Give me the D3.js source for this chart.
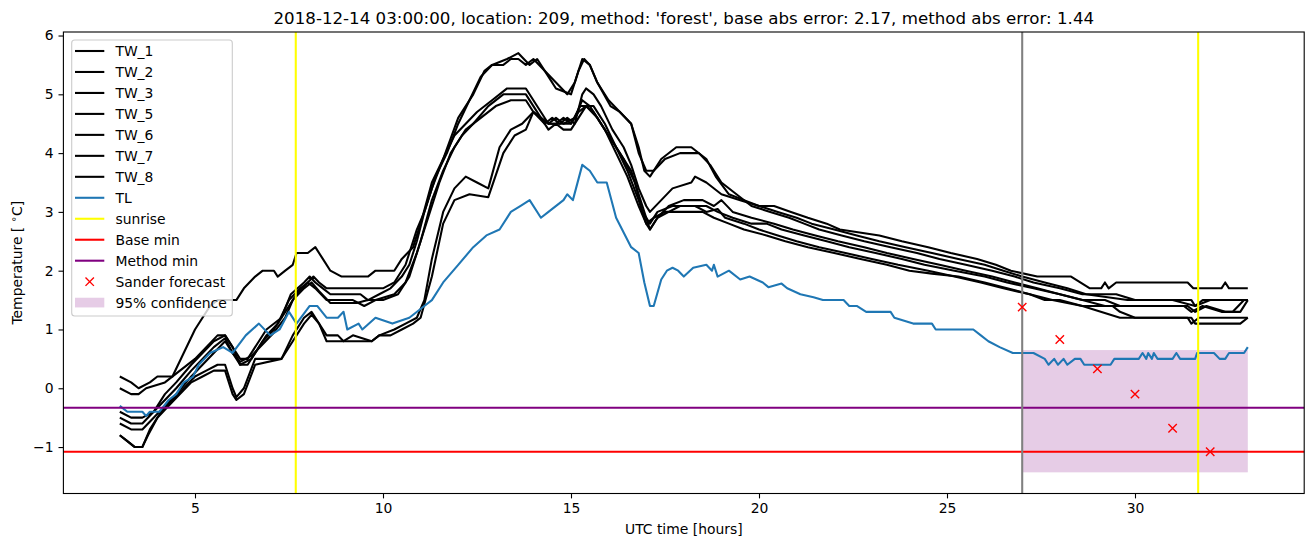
<!DOCTYPE html>
<html><head><meta charset="utf-8">
<script src="https://cdn.jsdelivr.net/npm/d3@7"></script>
<style>body{margin:0;background:#fff} svg{display:block} text{font-family:"DejaVu Sans",sans-serif;fill:#000}</style>
</head><body><svg id="c" width="1313" height="547"></svg>
<script>
// ---------- data (hour, temperature) ----------
const tw1 = [[3.0,0.2],[3.3,0.1],[3.5,0.0],[3.8,0.1],[4.0,0.2],[4.4,0.2],[4.7,0.6],[5.0,1.0],[5.4,1.4],[5.6,1.5],[6.1,1.5],[6.3,1.7],[6.6,1.9],[6.8,2.0],[7.1,2.0],[7.2,1.9],[7.4,2.0],[7.6,2.1],[7.7,2.3],[8.0,2.3],[8.2,2.4],[8.4,2.2],[8.6,2.0],[8.9,1.9],[9.6,1.9],[9.8,2.0],[10.3,2.0],[10.5,2.2],[10.8,2.4],[11.0,2.8],[11.3,3.5],[11.6,3.9],[12.0,4.6],[12.4,5.0],[12.7,5.4],[12.9,5.5],[13.3,5.6],[13.6,5.7],[13.9,5.5],[14.1,5.6],[14.4,5.3],[14.6,5.1],[15.0,5.0],[15.2,5.4],[15.35,5.6],[15.5,5.5],[15.7,5.2],[16.05,4.8],[16.3,4.7],[16.6,4.5],[16.8,4.1],[16.95,3.7],[17.1,3.6],[17.4,3.9],[17.8,4.1],[18.2,4.1],[18.6,3.9],[18.85,3.6],[19.2,3.3],[19.6,3.2],[20.0,3.1],[20.4,3.1],[20.85,3.0],[21.3,2.9],[21.8,2.8],[22.15,2.7],[23.2,2.6],[23.8,2.5],[24.5,2.4],[25.1,2.3],[25.8,2.2],[26.3,2.1],[26.7,2.0],[27.4,1.9],[28.3,1.9],[28.8,1.7],[29.1,1.7],[29.2,1.8],[29.3,1.7],[29.5,1.8],[31.4,1.8],[31.55,1.7],[32.3,1.7],[32.4,1.8],[32.5,1.7],[33.0,1.7]];
const tw2 = [[3.0,0.0],[3.3,-0.1],[3.5,-0.1],[3.7,0.0],[4.2,0.1],[4.6,0.3],[5.0,0.5],[5.3,0.7],[5.6,0.9],[5.8,0.9],[6.0,0.7],[6.2,0.5],[6.4,0.5],[6.7,0.8],[6.9,1.0],[7.3,1.2],[7.55,1.6],[7.9,1.8],[8.05,1.9],[8.2,1.8],[8.4,1.7],[8.6,1.6],[9.4,1.6],[9.6,1.5],[9.9,1.6],[10.2,1.7],[10.5,1.9],[10.7,2.1],[10.9,2.5],[11.1,3.0],[11.4,3.6],[11.7,4.0],[12.0,4.5],[12.3,4.9],[12.6,5.3],[12.9,5.5],[13.2,5.5],[13.4,5.6],[13.6,5.6],[13.8,5.5],[14.0,5.6],[14.3,5.4],[14.6,5.2],[14.9,5.0],[15.1,5.2],[15.3,5.6],[15.5,5.5],[15.7,5.2],[16.0,4.9],[16.3,4.7],[16.6,4.5],[16.8,4.0],[17.0,3.7],[17.2,3.7],[17.5,3.9],[17.9,4.0],[18.4,4.0],[18.7,3.8],[19.0,3.5],[19.4,3.3],[19.8,3.1],[20.3,3.0],[20.8,2.9],[21.2,2.8],[21.6,2.7],[22.2,2.6],[22.8,2.5],[23.5,2.4],[24.2,2.3],[24.8,2.2],[25.5,2.1],[26.2,2.0],[26.8,1.9],[27.3,1.8],[28.0,1.7],[28.6,1.6],[29.5,1.6],[30.0,1.5],[31.0,1.5],[31.6,1.4],[31.8,1.5],[32.5,1.5],[33.0,1.5]];
const tw3 = [[3.0,-0.4],[3.3,-0.5],[3.6,-0.5],[3.9,-0.4],[4.2,-0.1],[4.5,0.1],[4.9,0.4],[5.2,0.6],[5.5,0.8],[5.8,0.9],[6.0,0.7],[6.2,0.4],[6.4,0.4],[6.7,0.7],[6.9,0.9],[7.2,1.1],[7.5,1.5],[7.8,1.7],[8.0,1.8],[8.15,1.9],[8.3,1.8],[8.5,1.7],[9.0,1.7],[9.5,1.7],[10.0,1.7],[10.3,1.8],[10.6,2.1],[10.9,2.7],[11.1,3.0],[11.3,3.4],[11.6,3.9],[11.9,4.3],[12.2,4.5],[12.5,4.7],[12.9,4.9],[13.3,5.1],[13.8,5.1],[14.0,4.9],[14.2,4.7],[14.4,4.5],[14.7,4.5],[14.9,4.6],[15.1,4.5],[15.3,5.0],[15.4,5.1],[15.6,5.0],[15.8,4.8],[16.1,4.4],[16.4,4.1],[16.6,3.8],[16.8,3.4],[17.0,3.1],[17.1,3.0],[17.4,3.2],[17.7,3.4],[18.2,3.5],[18.3,3.6],[18.6,3.5],[19.0,3.3],[19.5,3.2],[20.0,3.1],[20.5,3.0],[21.0,2.9],[21.4,2.8],[22.0,2.7],[22.6,2.6],[23.2,2.5],[23.9,2.4],[24.6,2.3],[25.3,2.2],[26.0,2.1],[26.5,2.0],[27.0,1.9],[27.6,1.8],[28.2,1.7],[28.7,1.6],[29.8,1.5],[31.5,1.5],[31.6,1.4],[32.0,1.5],[33.0,1.5]];
const tw5 = [[3.0,-0.5],[3.3,-0.6],[3.6,-0.6],[3.9,-0.4],[4.2,-0.2],[4.5,0.0],[4.9,0.3],[5.2,0.5],[5.5,0.7],[5.8,0.85],[6.0,0.6],[6.2,0.4],[6.5,0.5],[6.8,0.8],[7.1,1.0],[7.4,1.3],[7.7,1.6],[8.0,1.8],[8.2,1.7],[8.5,1.5],[9.2,1.5],[9.5,1.4],[9.8,1.5],[10.3,1.6],[10.6,1.8],[10.9,2.3],[11.2,2.9],[11.5,3.5],[11.8,4.0],[12.1,4.3],[12.4,4.5],[12.8,4.8],[13.2,5.0],[13.8,5.0],[14.0,4.8],[14.2,4.6],[14.4,4.5],[14.6,4.6],[14.8,4.5],[15.1,4.6],[15.3,4.9],[15.5,4.8],[15.8,4.5],[16.1,4.2],[16.4,3.9],[16.7,3.5],[16.9,3.0],[17.1,2.8],[17.3,3.0],[17.7,3.1],[18.6,3.1],[18.9,3.0],[19.3,2.9],[19.8,2.8],[20.2,2.8],[20.6,2.7],[21.2,2.6],[21.8,2.5],[22.4,2.4],[23.1,2.3],[23.8,2.2],[24.4,2.1],[25.2,2.0],[26.0,1.9],[26.6,1.8],[27.3,1.7],[28.0,1.6],[28.6,1.5],[29.2,1.5],[29.6,1.4],[31.3,1.4],[31.5,1.3],[31.8,1.4],[32.3,1.3],[32.6,1.3],[32.9,1.5],[33.0,1.5]];
const tw6 = [[3.0,-0.6],[3.3,-0.7],[3.6,-0.7],[3.9,-0.5],[4.2,-0.3],[4.5,-0.1],[4.9,0.2],[5.2,0.4],[5.5,0.6],[5.8,0.8],[6.0,0.6],[6.2,0.45],[6.5,0.55],[6.8,0.75],[7.1,0.95],[7.4,1.2],[7.6,1.5],[7.9,1.7],[8.1,1.8],[8.3,1.65],[8.6,1.45],[9.3,1.45],[9.6,1.5],[10.0,1.5],[10.4,1.6],[10.7,1.9],[11.0,2.5],[11.3,3.2],[11.6,3.7],[11.9,4.1],[12.2,4.4],[12.6,4.6],[13.0,4.8],[13.4,4.9],[13.8,4.9],[14.0,4.7],[14.3,4.5],[14.5,4.6],[14.7,4.5],[15.0,4.5],[15.25,4.8],[15.4,4.8],[15.7,4.6],[16.0,4.3],[16.3,4.0],[16.6,3.7],[16.8,3.3],[17.0,2.9],[17.1,2.7],[17.3,2.9],[17.6,3.0],[17.9,3.1],[18.3,3.1],[18.6,3.0],[18.9,3.05],[19.1,2.9],[19.6,2.8],[20.0,2.7],[20.5,2.6],[21.0,2.5],[21.6,2.4],[22.3,2.3],[23.0,2.2],[23.7,2.1],[24.5,2.0],[25.2,1.9],[25.9,1.8],[26.5,1.7],[27.2,1.6],[27.8,1.5],[28.6,1.4],[29.6,1.2],[31.4,1.2],[31.5,1.1],[31.7,1.2],[32.8,1.2],[33.0,1.2]];
const tw7 = [[3.0,-0.8],[3.2,-0.9],[3.4,-1.0],[3.6,-1.0],[3.8,-0.7],[4.1,-0.4],[4.4,-0.2],[4.7,0.0],[5.0,0.2],[5.3,0.3],[5.6,0.4],[5.8,0.4],[6.0,0.0],[6.1,-0.15],[6.3,0.0],[6.6,0.5],[7.3,0.5],[7.6,0.9],[7.9,1.2],[8.1,1.3],[8.3,1.1],[8.5,0.9],[8.8,0.9],[8.95,0.8],[9.2,0.9],[9.7,0.8],[9.9,0.9],[10.3,1.0],[10.6,1.1],[10.9,1.2],[11.1,1.5],[11.3,2.2],[11.6,3.0],[11.9,3.4],[12.2,3.6],[12.5,3.5],[12.8,3.4],[13.1,4.1],[13.4,4.4],[13.7,4.5],[14.0,4.7],[14.2,4.6],[14.4,4.5],[14.6,4.5],[14.8,4.6],[15.0,4.5],[15.2,4.7],[15.4,4.8],[15.6,4.8],[15.9,4.5],[16.2,4.1],[16.5,3.7],[16.8,3.2],[17.0,2.8],[17.2,2.9],[17.5,3.0],[17.8,3.0],[18.5,3.0],[18.8,2.9],[19.2,2.8],[19.6,2.7],[20.2,2.6],[20.7,2.5],[21.3,2.4],[22.0,2.3],[22.7,2.2],[23.4,2.1],[24.0,2.0],[24.6,1.95],[25.3,1.9],[26.0,1.8],[26.6,1.7],[27.2,1.6],[27.6,1.5],[28.0,1.5],[28.6,1.4],[29.4,1.4],[29.6,1.3],[30.0,1.2],[31.5,1.2],[31.6,1.1],[32.8,1.1],[33.0,1.2]];
const tw8 = [[3.0,-0.8],[3.2,-0.9],[3.4,-1.0],[3.6,-1.0],[3.75,-0.8],[4.0,-0.5],[4.3,-0.3],[4.6,-0.1],[4.9,0.1],[5.2,0.2],[5.5,0.3],[5.8,0.3],[6.0,-0.1],[6.1,-0.2],[6.3,-0.1],[6.6,0.4],[7.3,0.5],[7.6,0.8],[7.9,1.1],[8.1,1.25],[8.3,1.1],[8.5,0.8],[9.7,0.8],[9.9,0.9],[10.2,0.9],[10.5,1.0],[10.8,1.1],[11.0,1.2],[11.3,1.9],[11.6,2.8],[11.9,3.2],[12.3,3.3],[12.8,3.25],[13.2,4.0],[13.5,4.3],[13.8,4.4],[14.0,4.7],[14.2,4.6],[14.4,4.4],[14.6,4.5],[14.8,4.4],[15.0,4.4],[15.2,4.6],[15.4,4.8],[15.6,4.7],[15.9,4.4],[16.2,4.0],[16.5,3.6],[16.8,3.1],[17.0,2.8],[17.1,2.7],[17.3,2.9],[17.6,3.1],[18.0,3.2],[18.5,3.2],[18.8,3.1],[19.0,3.2],[19.3,3.0],[19.8,2.9],[20.4,2.8],[20.9,2.7],[21.5,2.6],[22.1,2.5],[22.8,2.4],[23.4,2.3],[24.1,2.2],[24.8,2.1],[25.5,2.0],[26.2,1.9],[26.8,1.8],[27.4,1.7],[28.0,1.6],[28.6,1.5],[29.2,1.4],[30.0,1.4],[31.4,1.4],[31.6,1.3],[31.9,1.4],[32.4,1.3],[32.8,1.3],[33.0,1.5]];
const tl = [[3.0,-0.3],[3.2,-0.4],[3.6,-0.4],[3.7,-0.47],[3.8,-0.4],[4.05,-0.4],[4.3,-0.2],[4.5,-0.1],[4.7,0.1],[4.95,0.2],[5.1,0.4],[5.4,0.6],[5.75,0.7],[6.0,0.6],[6.35,0.9],[6.7,1.1],[7.0,0.9],[7.25,1.0],[7.5,1.3],[7.7,1.1],[8.05,1.4],[8.25,1.4],[8.5,1.2],[8.8,1.2],[8.95,1.3],[9.05,1.0],[9.35,1.1],[9.45,1.0],[9.8,1.2],[10.25,1.1],[10.7,1.2],[11.1,1.4],[11.3,1.5],[11.6,1.8],[12.0,2.1],[12.4,2.4],[12.75,2.6],[13.1,2.7],[13.4,3.0],[13.65,3.1],[13.9,3.2],[14.2,2.9],[14.4,3.0],[14.8,3.2],[14.9,3.3],[15.05,3.2],[15.3,3.8],[15.5,3.7],[15.7,3.5],[15.95,3.5],[16.2,2.9],[16.6,2.4],[16.8,2.3],[16.95,1.8],[17.1,1.4],[17.2,1.4],[17.4,1.85],[17.55,2.0],[17.7,2.05],[17.85,2.0],[18.0,1.9],[18.25,2.05],[18.6,2.1],[18.75,2.0],[18.8,2.1],[18.9,1.9],[19.2,2.0],[19.5,1.85],[19.75,1.9],[20.1,1.8],[20.25,1.72],[20.6,1.78],[20.75,1.7],[21.1,1.6],[21.45,1.55],[21.7,1.5],[22.25,1.5],[22.4,1.4],[22.6,1.4],[22.85,1.3],[23.5,1.3],[23.6,1.2],[24.1,1.1],[24.6,1.1],[24.7,1.0],[25.0,1.0],[25.7,1.0],[25.9,0.9],[26.1,0.8],[26.4,0.7],[26.75,0.6],[27.3,0.6],[27.6,0.5],[27.7,0.4],[27.85,0.5],[27.95,0.4],[28.1,0.5],[28.2,0.4],[28.4,0.5],[28.55,0.5],[28.65,0.4],[29.35,0.4],[29.45,0.5],[30.1,0.5],[30.2,0.6],[30.3,0.5],[30.35,0.6],[30.45,0.5],[30.5,0.6],[30.6,0.5],[31.0,0.5],[31.1,0.6],[31.2,0.5],[31.6,0.5],[31.65,0.6],[32.1,0.6],[32.25,0.5],[32.4,0.5],[32.5,0.6],[32.9,0.6],[33.0,0.7]];
const twNames = ["TW_1","TW_2","TW_3","TW_5","TW_6","TW_7","TW_8"];
const sunriseHours = [7.68, 31.68];
const issueHour = 27;
const baseMin = -1.08;
const methodMin = -0.33;
const forecastHours = [27, 28, 29, 30, 31, 32];
const forecastTemps = [1.38, 0.83, 0.33, -0.1, -0.68, -1.08];
const confHours = [27, 33];
const confLow = -1.43, confHigh = 0.65;
const xTicks = [5, 10, 15, 20, 25, 30];
const yTicks = [-1, 0, 1, 2, 3, 4, 5, 6];
const title = "2018-12-14 03:00:00, location: 209, method: 'forest', base abs error: 2.17, method abs error: 1.44";

// ---------- layout ----------
const L = 63.4, R = 1304.2, T = 32, B = 493.5;
const LW = 2.08;
const svg = d3.select("#c");
const x = d3.scaleLinear().domain([1.5, 34.5]).range([L, R]);
const y = d3.scaleLinear().domain([-1.79, 6.06]).range([B, T]);
const line = d3.line().x(d => x(d[0])).y(d => y(d[1]));

// confidence patch (zorder below lines)
svg.append("rect").attr("x", x(confHours[0])).attr("width", x(confHours[1]) - x(confHours[0]))
  .attr("y", y(confHigh)).attr("height", y(confLow) - y(confHigh))
  .attr("fill", "purple").attr("fill-opacity", 0.2);

const twSeries = [tw1, tw2, tw3, tw5, tw6, tw7, tw8];
twSeries.forEach(s => svg.append("path").attr("d", line(s)).attr("fill", "none")
  .attr("stroke", "#000").attr("stroke-width", LW).attr("stroke-linejoin", "round"));
svg.append("path").attr("d", line(tl)).attr("fill", "none")
  .attr("stroke", "#1f77b4").attr("stroke-width", LW).attr("stroke-linejoin", "round");

sunriseHours.forEach(h => svg.append("line").attr("x1", x(h)).attr("x2", x(h)).attr("y1", T).attr("y2", B)
  .attr("stroke", "#ffff00").attr("stroke-width", LW));
svg.append("line").attr("x1", L).attr("x2", R).attr("y1", y(baseMin)).attr("y2", y(baseMin))
  .attr("stroke", "#ff0000").attr("stroke-width", LW);
svg.append("line").attr("x1", L).attr("x2", R).attr("y1", y(methodMin)).attr("y2", y(methodMin))
  .attr("stroke", "#800080").attr("stroke-width", LW);
svg.append("line").attr("x1", x(issueHour)).attr("x2", x(issueHour)).attr("y1", T).attr("y2", B)
  .attr("stroke", "#808080").attr("stroke-width", LW);

function cross(g, cx, cy, r) {
  g.append("path").attr("d", `M${cx-r},${cy-r}L${cx+r},${cy+r}M${cx-r},${cy+r}L${cx+r},${cy-r}`)
    .attr("stroke", "#ff0000").attr("stroke-width", 1.4).attr("fill", "none");
}
forecastHours.forEach((h, i) => cross(svg, x(h), y(forecastTemps[i]), 4.2));

// axes
const fs = 13.9;
const xAxis = svg.append("g").attr("transform", `translate(0,${B})`)
  .call(d3.axisBottom(x).tickValues(xTicks).tickSize(4.9).tickPadding(4.9).tickSizeOuter(0).tickFormat(d3.format("d")));
const yAxis = svg.append("g").attr("transform", `translate(${L},0)`)
  .call(d3.axisLeft(y).tickValues(yTicks).tickSize(4.9).tickPadding(4.9).tickSizeOuter(0)
    .tickFormat(d => d < 0 ? "\u2212" + Math.abs(d) : String(d)));
[xAxis, yAxis].forEach(a => {
  a.select(".domain").remove();
  a.selectAll("text").attr("font-size", fs).attr("font-family", "DejaVu Sans").attr("fill", "#000");
  a.selectAll("line").attr("stroke", "#000").attr("stroke-width", 1.1);
});
svg.append("rect").attr("x", L).attr("y", T).attr("width", R - L).attr("height", B - T)
  .attr("fill", "none").attr("stroke", "#000").attr("stroke-width", 1.1);

svg.append("text").attr("x", (L + R) / 2).attr("y", 534).attr("text-anchor", "middle")
  .attr("font-size", fs).text("UTC time [hours]");
const yl = svg.append("text").attr("transform", `translate(22,${(T + B) / 2}) rotate(-90)`)
  .attr("text-anchor", "middle").attr("font-size", fs);
yl.append("tspan").text("Temperature [ ");
yl.append("tspan").attr("font-size", 10).attr("dy", -5).text("\u2218");
yl.append("tspan").attr("dy", 5).text("C]");
svg.append("text").attr("x", (L + R) / 2).attr("y", 23.5).attr("text-anchor", "middle")
  .attr("font-size", 16.67).text(title);

// legend
const lg = svg.append("g");
lg.append("rect").attr("x", 71.7).attr("y", 40).attr("width", 160.6).attr("height", 276).attr("rx", 3)
  .attr("fill", "#fff").attr("fill-opacity", 0.8).attr("stroke", "#cccccc").attr("stroke-width", 1.1);
const legendItems = twNames.map(n => ({label: n, type: "line", color: "#000"})).concat([
  {label: "TL", type: "line", color: "#1f77b4"},
  {label: "sunrise", type: "line", color: "#ffff00"},
  {label: "Base min", type: "line", color: "#ff0000"},
  {label: "Method min", type: "line", color: "#800080"},
  {label: "Sander forecast", type: "marker", color: "#ff0000"},
  {label: "95% confidence", type: "patch", color: "purple"}
]);
legendItems.forEach((it, i) => {
  const cy = 51 + i * 20.97;
  if (it.type === "line") {
    lg.append("line").attr("x1", 75).attr("x2", 104.3).attr("y1", cy).attr("y2", cy)
      .attr("stroke", it.color).attr("stroke-width", LW);
  } else if (it.type === "marker") {
    cross(lg, 89.7, cy, 4.2);
  } else {
    lg.append("rect").attr("x", 75).attr("y", cy - 4.9).attr("width", 29.3).attr("height", 9.7)
      .attr("fill", it.color).attr("fill-opacity", 0.2);
  }
  lg.append("text").attr("x", 115.4).attr("y", cy).attr("dy", "0.36em").attr("font-size", fs).text(it.label);
});
</script></body></html>
